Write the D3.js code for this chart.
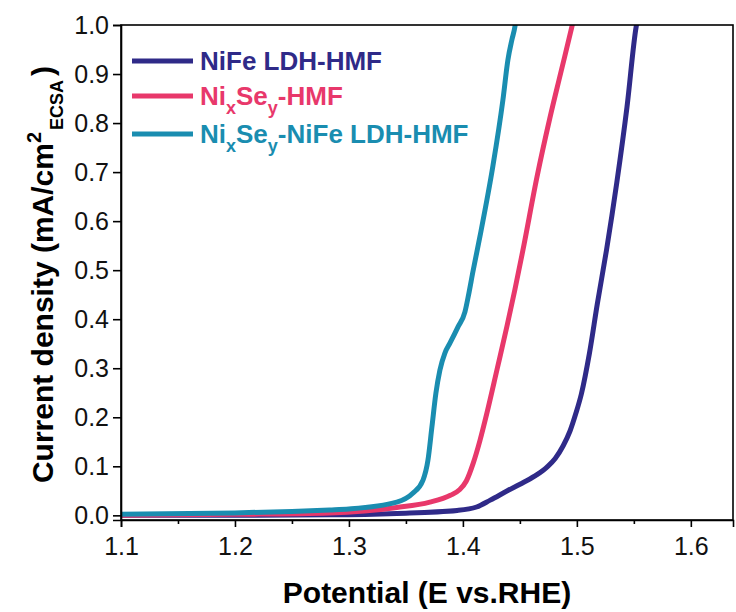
<!DOCTYPE html>
<html>
<head>
<meta charset="utf-8">
<script src="https://cdn.jsdelivr.net/npm/d3@7"></script>
<style>
  html, body { margin: 0; padding: 0; background: #fff; }
  svg { display: block; font-family: "Liberation Sans", Arial, sans-serif; }
</style>
</head>
<body>
<svg id="chart" width="736" height="612"></svg>
<script>
// Linear sweep voltammetry, current normalised by ECSA
const xTickValues = [1.1, 1.2, 1.3, 1.4, 1.5, 1.6];
const yTickValues = [0.0, 0.1, 0.2, 0.3, 0.4, 0.5, 0.6, 0.7, 0.8, 0.9, 1.0];

const seriesNames = ["NiFe LDH-HMF", "NixSey-HMF", "NixSey-NiFe LDH-HMF"];
const seriesColors = ["#2f2a88", "#e8386b", "#1a8db0"];

// [potential (V vs. RHE), current density (mA/cm² ECSA)]
const nifeLdh = [
  [1.10, 0.000], [1.20, 0.000], [1.283, 0.001], [1.342, 0.004], [1.395, 0.010],
  [1.412, 0.017], [1.424, 0.031], [1.439, 0.050], [1.453, 0.067], [1.465, 0.083],
  [1.474, 0.099], [1.481, 0.116], [1.488, 0.142], [1.494, 0.172], [1.499, 0.207],
  [1.504, 0.248], [1.511, 0.330], [1.518, 0.432], [1.526, 0.541], [1.535, 0.678],
  [1.544, 0.833], [1.552, 0.996], [1.554, 1.02]
];
const nixSey = [
  [1.10, 0.000], [1.20, 0.002], [1.283, 0.005], [1.342, 0.016], [1.371, 0.027],
  [1.389, 0.041], [1.397, 0.052], [1.403, 0.070], [1.409, 0.106], [1.415, 0.153],
  [1.421, 0.208], [1.430, 0.298], [1.4386, 0.385], [1.4456, 0.460], [1.4526, 0.540],
  [1.465, 0.690], [1.4763, 0.810], [1.4856, 0.900], [1.4956, 0.996], [1.498, 1.02]
];
const nixSeyNife = [
  [1.10, 0.002], [1.20, 0.005], [1.25, 0.008], [1.283, 0.011], [1.30, 0.013],
  [1.342, 0.027], [1.356, 0.045], [1.365, 0.072], [1.3693, 0.112], [1.3728, 0.180],
  [1.3763, 0.249], [1.3798, 0.296], [1.3842, 0.331], [1.3886, 0.351], [1.3956, 0.384],
  [1.4018, 0.415], [1.4050, 0.450], [1.4088, 0.497], [1.4149, 0.568], [1.4263, 0.712],
  [1.4351, 0.847], [1.4395, 0.929], [1.4430, 0.970], [1.4456, 0.996], [1.447, 1.02]
];
const seriesData = [nifeLdh, nixSey, nixSeyNife];

const svg = d3.select("#chart");
const plot = { left: 121, top: 25, right: 733, bottom: 520 };

const x = d3.scaleLinear().domain([1.1, 1.637]).range([plot.left, plot.right]);
const y = d3.scaleLinear().domain([-0.0095, 1.0]).range([plot.bottom, plot.top]);

svg.append("defs").append("clipPath").attr("id", "plot-clip")
  .append("rect")
  .attr("x", plot.left).attr("y", plot.top)
  .attr("width", plot.right - plot.left).attr("height", plot.bottom - plot.top);

// curves
const line = d3.line().x(d => x(d[0])).y(d => y(d[1])).curve(d3.curveMonotoneX);
const curves = svg.append("g").attr("clip-path", "url(#plot-clip)");
seriesData.forEach((data, i) => {
  curves.append("path")
    .datum(data)
    .attr("d", line)
    .attr("fill", "none")
    .attr("stroke", seriesColors[i])
    .attr("stroke-width", 5)
    .attr("stroke-linejoin", "round")
    .attr("stroke-linecap", "round");
});

// frame
svg.append("rect")
  .attr("x", plot.left).attr("y", plot.top)
  .attr("width", plot.right - plot.left).attr("height", plot.bottom - plot.top)
  .attr("fill", "none").attr("stroke", "#000").attr("stroke-width", 1.6);

// bottom axis with minor ticks
svg.append("g").attr("transform", `translate(0,${plot.bottom})`)
  .call(d3.axisBottom(x).tickValues(xTickValues).tickFormat(d3.format(".1f"))
    .tickSize(7).tickPadding(10));
const xMinor = xTickValues.map(v => +(v + 0.05).toFixed(2)).filter(v => v <= x.domain()[1]);
svg.append("g").attr("transform", `translate(0,${plot.bottom})`)
  .call(d3.axisBottom(x).tickValues(xMinor).tickFormat("").tickSize(4))
  .call(g => g.select(".domain").remove());

svg.append("g").attr("transform", `translate(${plot.left},0)`)
  .call(d3.axisLeft(y).tickValues(yTickValues).tickFormat(d3.format(".1f"))
    .tickSize(8).tickPadding(4));

svg.selectAll(".domain").attr("stroke", "#000").attr("stroke-width", 1.6);
svg.selectAll(".tick line").attr("stroke", "#000").attr("stroke-width", 1.6);
svg.selectAll(".tick text").attr("fill", "#111").style("font-size", "25px")
  .style("font-family", "'Liberation Sans', Arial, sans-serif");

// axis titles
svg.append("text")
  .attr("x", (plot.left + plot.right) / 2)
  .attr("y", 603)
  .attr("text-anchor", "middle")
  .style("font-size", "30px").style("font-weight", "bold")
  .text("Potential (E vs.RHE)");

const yTitle = svg.append("text")
  .attr("transform", `translate(53,${(plot.top + plot.bottom) / 2 + 2}) rotate(-90)`)
  .attr("text-anchor", "middle")
  .style("font-size", "30px").style("font-weight", "bold");
yTitle.append("tspan").text("Current density (mA/cm");
yTitle.append("tspan").attr("dy", -12).style("font-size", "20px").text("2");
yTitle.append("tspan").attr("dy", 22).attr("dx", 2).style("font-size", "18px").text("ECSA");
yTitle.append("tspan").attr("dy", -10).attr("dx", 4).text(")");

// legend
const legendRows = [
  [["NiFe LDH-HMF", 0]],
  [["Ni", 0], ["x", 1], ["Se", 0], ["y", 1], ["-HMF", 0]],
  [["Ni", 0], ["x", 1], ["Se", 0], ["y", 1], ["-NiFe LDH-HMF", 0]]
];
const legendY = [61, 96, 134];
const legend = svg.append("g");
legendRows.forEach((parts, i) => {
  legend.append("line")
    .attr("x1", 132).attr("x2", 193)
    .attr("y1", legendY[i]).attr("y2", legendY[i])
    .attr("stroke", seriesColors[i]).attr("stroke-width", 5);
  const t = legend.append("text")
    .attr("x", 200).attr("y", legendY[i] + 9)
    .attr("fill", seriesColors[i])
    .style("font-size", "26px").style("font-weight", "bold");
  let lowered = false;
  parts.forEach(([s, sub]) => {
    const ts = t.append("tspan").text(s);
    if (sub && !lowered) { ts.attr("dy", 9).style("font-size", "18px"); lowered = true; }
    else if (sub) { ts.style("font-size", "18px"); }
    else if (lowered) { ts.attr("dy", -9); lowered = false; }
  });
});
</script>
</body>
</html>
